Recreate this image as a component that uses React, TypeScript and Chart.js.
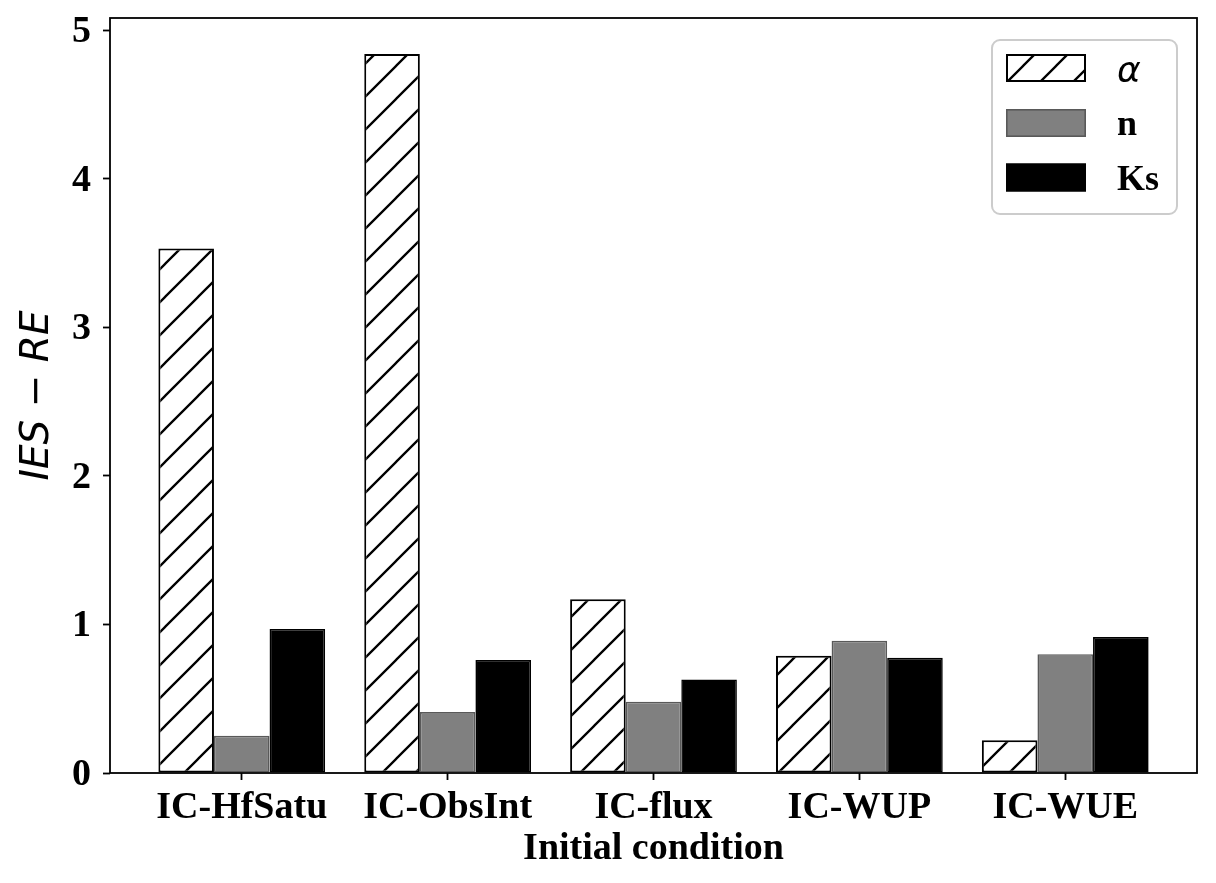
import React, { useEffect, useRef } from 'react';
import { Chart, registerables } from 'chart.js';

Chart.register(...registerables);

const categories = ['IC-HfSatu', 'IC-ObsInt', 'IC-flux', 'IC-WUP', 'IC-WUE'];
const seriesLabels = ['α', 'n', 'Ks'];
const alphaValues = [3.53, 4.84, 1.17, 0.79, 0.22];
const nValues = [0.25, 0.41, 0.48, 0.89, 0.8];
const ksValues = [0.97, 0.76, 0.63, 0.775, 0.915];
const yTicks = [0, 1, 2, 3, 4, 5];
const xTitle = 'Initial condition';
const yTitle = 'IES − RE';

const W = 1216;
const H = 883;

function makeHatch(): CanvasPattern | string {
  const s = 33;
  const c = document.createElement('canvas');
  c.width = s;
  c.height = s;
  const g = c.getContext('2d');
  if (!g) return '#ffffff';
  g.fillStyle = '#ffffff';
  g.fillRect(0, 0, s, s);
  g.strokeStyle = '#000000';
  g.lineWidth = 2.3;
  g.beginPath();
  g.moveTo(-2, s + 2);
  g.lineTo(s + 2, -2);
  g.moveTo(-2, 2);
  g.lineTo(2, -2);
  g.moveTo(s - 2, s + 2);
  g.lineTo(s + 2, s - 2);
  g.stroke();
  const p = g.createPattern(c, 'repeat');
  return p || '#ffffff';
}

const framePlugin = {
  id: 'frameAndLegend',
  afterDraw(chart: any) {
    const ctx = chart.ctx as CanvasRenderingContext2D;
    const a = chart.chartArea;
    ctx.save();
    // frame
    ctx.strokeStyle = '#000';
    ctx.lineWidth = 1.8;
    ctx.strokeRect(a.left, a.top, a.right - a.left, a.bottom - a.top);

    // y title
    ctx.fillStyle = '#000';
    ctx.font = 'italic 39px "DejaVu Sans"';
    ctx.textAlign = 'center';
    ctx.textBaseline = 'alphabetic';
    ctx.save();
    ctx.translate(48, (a.top + a.bottom) / 2);
    ctx.rotate(-Math.PI / 2);
    ctx.fillText(yTitle, 0, 0);
    ctx.restore();

    // x title
    ctx.font = 'bold 38px "Liberation Serif"';
    ctx.textAlign = 'center';
    ctx.fillText(xTitle, (a.left + a.right) / 2, 859);

    // legend
    const bw = 185;
    const bh = 174;
    const bx = a.right - 20 - bw;
    const by = a.top + 22;
    const r = 8;
    ctx.beginPath();
    ctx.moveTo(bx + r, by);
    ctx.lineTo(bx + bw - r, by);
    ctx.arcTo(bx + bw, by, bx + bw, by + r, r);
    ctx.lineTo(bx + bw, by + bh - r);
    ctx.arcTo(bx + bw, by + bh, bx + bw - r, by + bh, r);
    ctx.lineTo(bx + r, by + bh);
    ctx.arcTo(bx, by + bh, bx, by + bh - r, r);
    ctx.lineTo(bx, by + r);
    ctx.arcTo(bx, by, bx + r, by, r);
    ctx.closePath();
    ctx.fillStyle = 'rgba(255,255,255,0.85)';
    ctx.fill();
    ctx.strokeStyle = '#cccccc';
    ctx.lineWidth = 2;
    ctx.stroke();

    const ds = chart.data.datasets;
    const centers = [68, 123, 177.5].map((v) => v - 18 + a.top);
    const sw = 80;
    const sh = 28;
    const sx = bx + 14;
    ds.forEach((d: any, i: number) => {
      const cy = centers[i];
      ctx.fillStyle = d.backgroundColor;
      ctx.fillRect(sx, cy - sh / 2, sw, sh);
      ctx.strokeStyle = d.borderColor;
      ctx.lineWidth = d.borderWidth;
      ctx.strokeRect(sx + d.borderWidth / 2, cy - sh / 2 + d.borderWidth / 2, sw - d.borderWidth, sh - d.borderWidth);
      ctx.fillStyle = '#000';
      ctx.textAlign = 'left';
      ctx.textBaseline = 'alphabetic';
      if (i === 0) {
        ctx.font = 'italic 36px "DejaVu Sans"';
        ctx.fillText(d.label, bx + 125, cy + 14);
      } else {
        ctx.font = 'bold 36px "Liberation Serif"';
        ctx.fillText(d.label, bx + 125, cy + 12);
      }
    });
    ctx.restore();
  },
};

export default function App() {
  const ref = useRef<HTMLCanvasElement | null>(null);

  useEffect(() => {
    if (!ref.current) return;
    const hatch = makeHatch();
    const toPts = (vals: number[]) => vals.map((v, i) => ({ x: i, y: v }));
    const chart = new Chart(ref.current, {
      type: 'bar',
      data: {
        datasets: [
          {
            label: seriesLabels[0],
            data: toPts(alphaValues),
            backgroundColor: hatch as any,
            borderColor: '#000000',
            borderWidth: 2,
            borderSkipped: false,
          },
          {
            label: seriesLabels[1],
            data: toPts(nValues),
            backgroundColor: '#808080',
            borderColor: '#595959',
            borderWidth: 1.6,
            borderSkipped: false,
          },
          {
            label: seriesLabels[2],
            data: toPts(ksValues),
            backgroundColor: '#000000',
            borderColor: '#000000',
            borderWidth: 1.6,
            borderSkipped: false,
          },
        ],
      },
      options: {
        responsive: false,
        animation: false,
        devicePixelRatio: 1,
        layout: { padding: { left: 0, top: 18, right: 19, bottom: 0 } },
        datasets: { bar: { categoryPercentage: 0.81, barPercentage: 1.0 } },
        plugins: { legend: { display: false }, tooltip: { enabled: false }, title: { display: false } },
        scales: {
          x: {
            type: 'linear',
            min: -0.64,
            max: 4.64,
            offset: false,
            afterBuildTicks: (scale: any) => {
              scale.ticks = categories.map((_, i) => ({ value: i }));
            },
            afterFit: (scale: any) => {
              scale.height = H - 773;
              scale.paddingLeft = 0;
              scale.paddingRight = 0;
            },
            border: { display: false },
            grid: {
              display: true,
              drawOnChartArea: false,
              drawTicks: true,
              tickLength: 7,
              tickWidth: 1.8,
              tickColor: '#000',
              offset: false,
            },
            ticks: {
              color: '#000',
              padding: 5,
              maxRotation: 0,
              autoSkip: false,
              font: { family: '"Liberation Serif"', size: 38, weight: 'bold' },
              callback: (v: any) => categories[Math.round(Number(v))] ?? '',
            },
          },
          y: {
            type: 'linear',
            min: 0,
            max: 5.082,
            afterBuildTicks: (scale: any) => {
              scale.ticks = yTicks.map((v) => ({ value: v }));
            },
            afterFit: (scale: any) => {
              scale.width = 110;
              scale.paddingTop = 0;
              scale.paddingBottom = 0;
            },
            border: { display: false },
            grid: {
              display: true,
              drawOnChartArea: false,
              drawTicks: true,
              tickLength: 7,
              tickWidth: 1.8,
              tickColor: '#000',
            },
            ticks: {
              color: '#000',
              padding: 12,
              labelOffset: 2,
              font: { family: '"Liberation Serif"', size: 38, weight: 'bold' },
              callback: (v: any) => String(v),
            },
          },
        },
      } as any,
      plugins: [framePlugin],
    });
    return () => chart.destroy();
  }, []);

  return (
    <div style={{ position: 'absolute', left: 0, top: 0, width: W, height: H, background: '#fff' }}>
      <canvas ref={ref} width={W} height={H} style={{ width: W, height: H, display: 'block' }} />
    </div>
  );
}
